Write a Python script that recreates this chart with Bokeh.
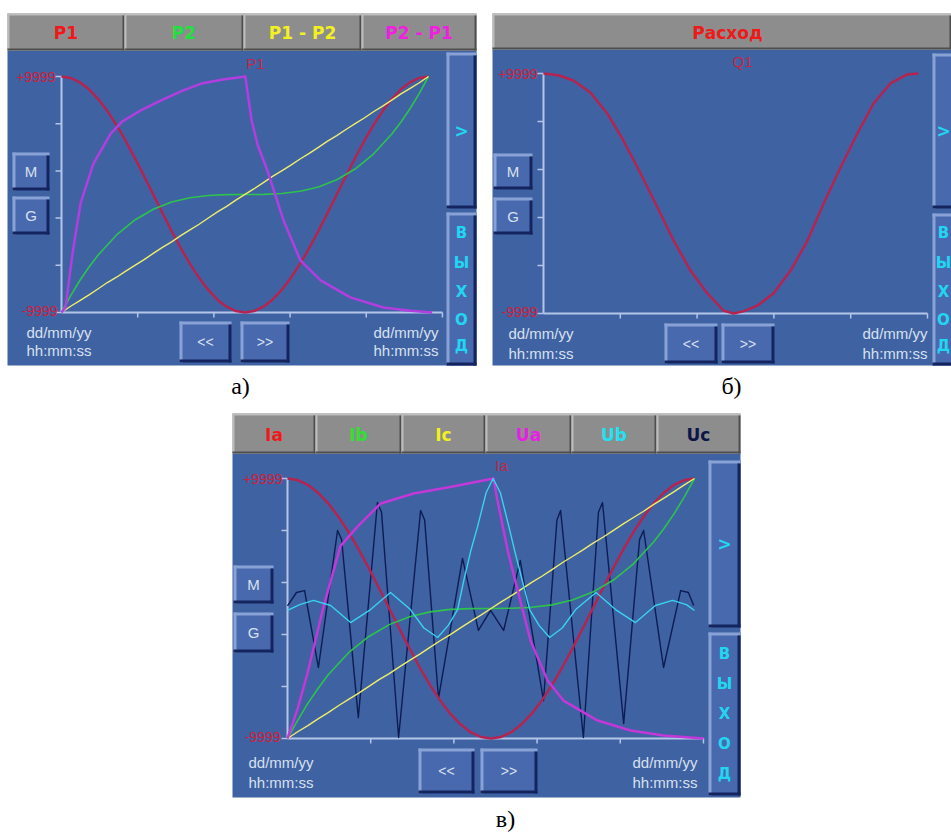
from bokeh.plotting import figure
from bokeh.models import Range1d
from bokeh.core.properties import value
from bokeh.embed import file_html
from bokeh.resources import INLINE

# ---------------- data ----------------
Y_MIN, Y_MAX = -9999, 9999
T41 = [i * 2.5 for i in range(41)]

# panel a)
A_P1 = [9999, 9880, 9510, 8910, 8090, 7070, 5880, 4540, 3090, 1560, 0,
        -1560, -3090, -4540, -5880, -7070, -8090, -8910, -9510, -9880, -9999,
        -9880, -9510, -8910, -8090, -7070, -5880, -4540, -3090, -1560, 0,
        1560, 3090, 4540, 5880, 7070, 8090, 8910, 9510, 9880, 9999]
A_P2_T = [0, 2.5, 5, 7.5, 10, 15, 20, 25, 30, 35, 40, 45, 50, 55, 60, 65, 70, 75, 80, 85, 90, 92.5, 95, 97.5, 100]
A_P2 = [-9999, -8570, -7290, -6140, -5120, -3430, -2160, -1250, -640, -270, -80, -10, 0,
        10, 80, 270, 640, 1250, 2160, 3430, 5120, 6140, 7290, 8570, 9999]
A_P1P2 = [-9999, -9470, -8990, -8510, -7990, -7460, -7010, -6490, -6000, -5520, -4990,
          -4480, -4010, -3490, -3000, -2520, -1990, -1470, -1000, -480, 10, 490, 1000,
          1530, 2000, 2490, 3010, 3480, 4000, 4520, 4990, 5510, 6000, 6480, 7010, 7490,
          8000, 8520, 9000, 9470, 9999]
A_P2P1_T = [0, 1.1, 3, 5.2, 8.7, 13.4, 16.6, 22, 27, 33, 38.1, 44, 50.1, 51, 51.8, 53.5,
            56.1, 60.5, 65.1, 70.6, 78.7, 87.7, 95, 101]
A_P2P1 = [-9999, -9575, -5000, -740, 2620, 5160, 6200, 7200, 7960, 8800, 9400, 9750, 9999,
          8000, 6270, 4150, 2030, -2200, -5590, -7280, -8720, -9570, -9850, -9999]

# panel б)
B_Q1_T = [0, 4, 8, 12.5, 17, 21.3, 25.9, 30.4, 34.7, 39.2, 43.7, 48, 50.7, 53.5, 57, 61.3,
          65.9, 70.4, 74.7, 79.2, 83.7, 88, 92.5, 97, 100]
B_Q1 = [9999, 9850, 9420, 8420, 6670, 4420, 1670, -1170, -3920, -6420, -8330, -9750, -9999,
        -9800, -9350, -8330, -6420, -3920, -830, 2170, 5000, 7500, 9170, 9920, 9999]

# panel в)
C_IA = A_P1
C_IB_T = A_P2_T
C_IB = [-9999, -8600, -7300, -6150, -5100, -3400, -2150, -1240, -630, -260, -70, -10, 0,
        20, 90, 280, 650, 1260, 2170, 3440, 5130, 6150, 7300, 8580, 9999]
C_IC = [-9999, -9480, -9010, -8490, -8010, -7480, -6990, -6510, -5990, -5470, -5010, -4490,
        -3990, -3510, -2990, -2480, -2010, -1490, -990, -510, 0, 510, 990, 1490, 2010, 2480,
        2990, 3520, 4000, 4490, 5010, 5480, 5990, 6510, 7000, 7480, 8010, 8490, 8990, 9510, 9999]
C_UA_T = [0, 2.5, 4.9, 8.8, 13, 17.2, 22.9, 31, 39.3, 45, 50.6, 51.6, 54.1, 55.5, 59.7,
          63.9, 67.8, 76.2, 84.3, 92.4, 102.2]
C_UA = [-9999, -7700, -5000, 80, 4800, 6300, 8080, 8850, 9310, 9650, 9999, 8310, 4460, 2690,
        -2460, -5540, -7080, -8620, -9380, -9770, -9999]
C_UB_T = [0, 3, 6.4, 10.6, 15.5, 20.4, 25.3, 30.2, 33.5, 36.9, 39.5, 41.8, 43.2, 45, 46.7,
          48.8, 50.5, 52.3, 54.4, 56, 57.8, 59.5, 61.8, 64.4, 67.5, 70.8, 75.8, 80.6, 85.5,
          90.4, 94.6, 98, 100]
C_UB = [-150, 300, 620, 230, -1080, -80, 1230, -80, -1500, -2230, -1300, -80, 2000, 4400,
        6300, 8900, 9999, 8900, 6300, 4200, 2000, -80, -1300, -2230, -1500, -80, 1230, -80,
        -1080, 230, 620, 300, -150]
C_UC_T = [0, 2.2, 4.2, 7.6, 12.3, 13.3, 17.4, 22.1, 23.1, 27.3, 32.7, 33.7, 37.1, 43.0,
          46.9, 49.9, 53.1, 57.2, 62.9, 66.2, 67.1, 72.7, 76.4, 77.4, 82.6, 86.5, 87.5, 92.4,
          96.6, 98.5, 99.8]
C_UC = [200, 1230, 1380, -4540, 6000, 5300, -8390, 8150, 7400, -9920, 7540, 6800, -6920,
        3850, -1690, -150, -1690, 3690, -7080, 6800, 7540, -9920, 7400, 8150, -8850, 5300,
        6000, -4540, 1380, 1230, 230]

BTN_A = ["P1", "P2", "P1 - P2", "P2 - P1"]
BTN_B = ["Расход"]
BTN_C = ["Ia", "Ib", "Ic", "Ua", "Ub", "Uc"]
TITLES = ["P1", "Q1", "Ia"]
LEFT_LBL = ["+9999", "-9999"]
DATE_LBL = ["dd/mm/yy", "hh:mm:ss"]
EXIT_LETTERS = ["В", "Ы", "Х", "О", "Д"]
CAPTIONS = ["а)", "б)", "в)"]

# ---------------- styles ----------------
BLUE = "#3f62a2"
BTN_FACE, BTN_LIGHT, BTN_DARK = "#4869ad", "#88a2d6", "#14245e"
GRAY, GRAY_L, GRAY_D = "#8d8d8d", "#bcbcbc", "#4e4e4e"
AXIS = "#b4c6e8"
LIGHT_TXT = "#d8e0f0"
RED_LBL = "#d0203c"
CYAN = "#22d6f2"
C_RED, C_GREEN, C_YEL, C_MAG, C_CYAN, C_NAVY = "#b52451", "#2ec24e", "#eeee6a", "#b33ee0", "#3ad2f0", "#0e1c54"
LBL_COL_A = ["#f01818", "#22e040", "#f2f020", "#f020e0"]
LBL_COL_B = ["#ee1a1a"]
LBL_COL_C = ["#f01818", "#30e030", "#f2f020", "#e81ee6", "#22e2f2", "#0c1448"]

W, H = 951, 836
OX, OY = 0, 0
F_SANS = "Liberation Sans"
F_BOLD = "DejaVu Sans"

p = figure(width=W, height=H, x_range=Range1d(OX, OX + W), y_range=Range1d(OY + H, OY),
           x_axis_type=None, y_axis_type=None, toolbar_location=None, output_backend="svg",
           min_border=0, outline_line_color=None,
           background_fill_color="white", border_fill_color="white")


def txt(x, y, s, color, size, bold=False, align="center", font=F_SANS, baseline="middle"):
    p.text(x=[x], y=[y], text=[s], text_color=color, text_font_size=f"{size}px",
           text_font=value(font), text_font_style="bold" if bold else "normal",
           text_align=align, text_baseline=baseline)


def bevel(x0, y0, x1, y1, face, light, dark, bw):
    p.quad(left=[x0], right=[x1], top=[y0], bottom=[y1], fill_color=face, line_color=None)
    p.quad(left=[x0, x0], right=[x1, x0 + bw], top=[y0, y0], bottom=[y0 + bw, y1],
           fill_color=light, line_color=None)
    p.quad(left=[x0, x1 - bw], right=[x1, x1], top=[y1 - bw, y0 + bw], bottom=[y1, y1],
           fill_color=dark, line_color=None)


def ranges(px0, px1, pyt, pyb):
    sx = (px1 - px0) / 100.0
    sy = (pyb - pyt) / float(Y_MAX - Y_MIN)
    xr = Range1d((OX - px0) / sx, (OX + W - px0) / sx)
    yr = Range1d(Y_MAX - (OY + H - pyt) / sy, Y_MAX + (pyt - OY) / sy)
    return xr, yr, sx, sy


PANELS = [
    dict(key="a", box=(7, 13, 476, 365), bar=50, seps=[7, 124, 243, 361, 476],
         labels=BTN_A, lcols=LBL_COL_A, px=(61, 428), py=(76, 312), xend=103.8,
         title=TITLES[0], title_xy=(255, 63), lab_x=(55, 57),
         m=(12, 152, 49, 190), g=(12, 196, 49, 234), rx=(446, 476), arrow=(52, 208), exit=(212, 365),
         letters=[232, 262, 291, 319, 345], lx=461, dd=(26, 373, 332, 350),
         nl=(179, 321, 231, 362), nr=(240, 321, 289, 362),
         series=[(T41, A_P1, C_RED, 2.5), (A_P2_T, A_P2, C_GREEN, 1.6),
                 (T41, A_P1P2, C_YEL, 1.4), (A_P2P1_T, A_P2P1, C_MAG, 2.5)]),
    dict(key="b", box=(492, 13, 951, 365), bar=49, seps=[492, 951],
         labels=BTN_B, lcols=LBL_COL_B, px=(543, 918), py=(73, 313), xend=102.4,
         title=TITLES[1], title_xy=(742, 61), lab_x=(537, 537),
         m=(493, 153, 532, 189), g=(493, 197, 532, 234), rx=(932, 956), arrow=(53, 208), exit=(213, 365),
         letters=[232, 262, 291, 319, 345], lx=943, dd=(508, 862, 333, 353),
         nl=(664, 323, 717, 363), nr=(721, 323, 774, 363),
         series=[(B_Q1_T, B_Q1, C_RED, 2.5)]),
    dict(key="c", box=(232, 413, 740, 797), bar=453, seps=[232, 315, 401, 485, 571, 656, 740],
         labels=BTN_C, lcols=LBL_COL_C, px=(287, 694), py=(478, 738), xend=102.2,
         title=TITLES[2], title_xy=(501, 465), lab_x=(282, 280),
         m=(233, 565, 273, 603), g=(233, 612, 273, 652), rx=(708, 740), arrow=(460, 627), exit=(632, 795),
         letters=[653, 683, 713, 743, 773], lx=724, dd=(248, 632, 762, 782),
         nl=(418, 748, 474, 793), nr=(480, 748, 537, 793),
         series=[(C_UC_T, C_UC, C_NAVY, 1.4), (T41, C_IA, C_RED, 2.5), (C_IB_T, C_IB, C_GREEN, 1.6),
                 (T41, C_IC, C_YEL, 1.4), (C_UA_T, C_UA, "#c238d8", 2.5),
                 (C_UB_T, C_UB, C_CYAN, 1.4)]),
]

for P in PANELS:
    k = P["key"]
    x0, y0, x1, y1 = P["box"]
    bar = P["bar"]
    xr, yr, sx, sy = ranges(P["px"][0], P["px"][1], P["py"][0], P["py"][1])
    p.extra_x_ranges[k] = xr
    p.extra_y_ranges[k] = yr
    upx = 1.0 / sx          # data units per pixel, x
    upy = 1.0 / sy          # data units per pixel, y

    # blue area
    p.quad(left=[x0], right=[x1], top=[bar], bottom=[y1], fill_color=BLUE, line_color=None)
    # grey button bar
    seps = P["seps"]
    for i, lab in enumerate(P["labels"]):
        bx0, bx1 = seps[i], seps[i + 1]
        bevel(bx0, y0, bx1, bar, GRAY, GRAY_L, GRAY_D, 2)
        txt((bx0 + bx1) / 2 if k != "b" else 727, (y0 + bar) / 2 + 1, lab, P["lcols"][i], 17,
            bold=True, font=F_BOLD)

    # date / time texts
    dl, dr, dy1, dy2 = P["dd"]
    for xx in (dl, dr):
        txt(xx, dy1, DATE_LBL[0], LIGHT_TXT, 15, align="left")
        txt(xx, dy2, DATE_LBL[1], LIGHT_TXT, 15, align="left")

    # axes, drawn in the panel's own scales
    yt = [Y_MIN + j * (Y_MAX - Y_MIN) / 5.0 for j in range(6)]
    xt = [j * P["xend"] / 5.0 for j in range(1, 6)]
    p.segment(x0=[-6 * upx] * 6, x1=[0] * 6, y0=yt, y1=yt, line_color=AXIS, line_width=1.5,
              x_range_name=k, y_range_name=k)
    p.segment(x0=xt, x1=xt, y0=[Y_MIN] * 5, y1=[Y_MIN - 5 * upy] * 5, line_color=AXIS,
              line_width=1.5, x_range_name=k, y_range_name=k)
    p.line(x=[0, 0], y=[Y_MIN, Y_MAX], line_color=AXIS, line_width=2, x_range_name=k, y_range_name=k)
    p.line(x=[0, P["xend"]], y=[Y_MIN, Y_MIN], line_color=AXIS, line_width=2,
           x_range_name=k, y_range_name=k)

    # curves
    for xs, ys, col, lw in P["series"]:
        p.line(x=xs, y=ys, line_color=col, line_width=lw, line_join="round",
               x_range_name=k, y_range_name=k)

    # scale labels and title
    txt(P["lab_x"][0], P["py"][0], LEFT_LBL[0], RED_LBL, 14, align="right")
    txt(P["lab_x"][1], P["py"][1] - 2, LEFT_LBL[1], RED_LBL, 14, align="right")
    txt(P["title_xy"][0], P["title_xy"][1], P["title"], "#c02848", 15)

    # side buttons M / G
    for (bx0, by0, bx1, by1), lab in ((P["m"], "M"), (P["g"], "G")):
        bevel(bx0, by0, bx1, by1, BTN_FACE, BTN_LIGHT, BTN_DARK, 3)
        txt((bx0 + bx1) / 2, (by0 + by1) / 2, lab, LIGHT_TXT, 15)
    # navigation buttons
    for (bx0, by0, bx1, by1), lab in ((P["nl"], "<<"), (P["nr"], ">>")):
        bevel(bx0, by0, bx1, by1, BTN_FACE, BTN_LIGHT, BTN_DARK, 3)
        txt((bx0 + bx1) / 2, (by0 + by1) / 2, lab, LIGHT_TXT, 14)
    # right buttons
    rx0, rx1 = P["rx"]
    bevel(rx0, P["arrow"][0], rx1, P["arrow"][1], BTN_FACE, BTN_LIGHT, BTN_DARK, 3)
    bevel(rx0, P["exit"][0], rx1, P["exit"][1], BTN_FACE, BTN_LIGHT, BTN_DARK, 3)
    cx = P["lx"]
    txt(cx, (P["arrow"][0] + P["arrow"][1]) / 2, ">", CYAN, 17, bold=True, font=F_BOLD)
    for ly, ch in zip(P["letters"], EXIT_LETTERS):
        txt(cx, ly, ch, CYAN, 15, bold=True, font=F_BOLD)

# captions
txt(240, 385, CAPTIONS[0], "black", 24, font="Liberation Serif")
txt(731, 385, CAPTIONS[1], "black", 24, font="Liberation Serif")
txt(505, 818, CAPTIONS[2], "black", 24, font="Liberation Serif")

open("out.html", "w").write(file_html(p, INLINE))
